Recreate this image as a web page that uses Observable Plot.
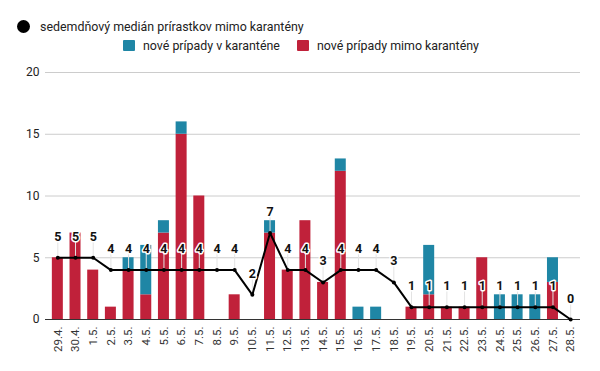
<!DOCTYPE html>
<html>
<head>
<meta charset="utf-8">
<script src="https://cdn.jsdelivr.net/npm/d3@7"></script>
<script src="https://cdn.jsdelivr.net/npm/@observablehq/plot@0.6"></script>
<style>
  body { margin: 0; background: #fff; font-family: Roboto, "Noto Sans", sans-serif; }
  #legend { position: relative; height: 60px; width: 600px; font-size: 12.4px; color: #222; }
  .row { position: absolute; display: flex; align-items: center; white-space: nowrap; height: 14px; }
  .dot { width: 13px; height: 13px; border-radius: 50%; background: #000; margin-right: 10px; }
  .sw { width: 12px; height: 11px; margin-right: 8px; border-radius: 1px; }
</style>
</head>
<body>
<div id="legend">
  <div class="row" style="left:17px; top:19px;"><span class="dot"></span>sedemdňový medián prírastkov mimo karantény</div>
  <div class="row" style="left:123px; top:38px;">
    <span class="sw" style="background:#1f86a5"></span><span>nové prípady v karanténe</span>
    <span class="sw" style="background:#c0213a; margin-left:17px;"></span><span>nové prípady mimo karantény</span>
  </div>
</div>
<div id="chart"></div>
<script>
const days = ["29.4.","30.4.","1.5.","2.5.","3.5.","4.5.","5.5.","6.5.","7.5.","8.5.","9.5.","10.5.","11.5.","12.5.","13.5.","14.5.","15.5.","16.5.","17.5.","18.5.","19.5.","20.5.","21.5.","22.5.","23.5.","24.5.","25.5.","26.5.","27.5.","28.5."];
const mimo = [5,7,4,1,4,2,7,15,10,0,2,0,7,4,8,3,12,0,0,0,1,2,1,1,5,0,0,0,3,0];
const vKarantene = [0,0,0,0,1,4,1,1,0,0,0,0,1,0,0,0,1,1,1,0,0,4,0,0,0,2,2,2,2,0];
const median = [5,5,5,4,4,4,4,4,4,4,4,2,7,4,4,3,4,4,4,3,1,1,1,1,1,1,1,1,1,0];
const seriesNames = ["nové prípady mimo karantény", "nové prípady v karanténe"];
const seriesColors = ["#c0213a", "#1f86a5"];
const yTicks = [0, 5, 10, 15, 20];

const bars = [];
days.forEach((d, i) => {
  bars.push({day: d, series: seriesNames[0], value: mimo[i]});
  bars.push({day: d, series: seriesNames[1], value: vKarantene[i]});
});
const med = days.map((d, i) => ({day: d, value: median[i]}));

const chart = Plot.plot({
  width: 600,
  height: 311,
  marginLeft: 45,
  marginRight: 20,
  marginTop: 12,
  marginBottom: 52,
  insetLeft: 3.5,
  insetRight: 1,
  style: {fontFamily: "Roboto, sans-serif", background: "#fff"},
  x: {domain: days, paddingInner: 0.378, paddingOuter: 0.189, round: false, label: null},
  y: {domain: [0, 20], ticks: yTicks, label: null},
  color: {domain: seriesNames, range: seriesColors},
  marks: [
    Plot.ruleY(yTicks.filter(t => t > 0), {stroke: "#cccccc", strokeWidth: 1}),
    Plot.barY(bars, {x: "day", y: "value", fill: "series", order: seriesNames}),
    Plot.ruleY([0], {stroke: "#333", strokeWidth: 1.2}),
    Plot.ruleX(med, {x: "day", y1: "value", y2: "value", insetTop: -16, stroke: "#e3e3e3", strokeWidth: 1}),
    Plot.line(med, {x: "day", y: "value", stroke: "#000", strokeWidth: 2}),
    Plot.dot(med, {x: "day", y: "value", r: 2, fill: "#000"}),
    Plot.text(med, {x: "day", y: "value", text: d => String(d.value), dy: -21, fontSize: 12.5, fontWeight: "bold", fill: "#111", stroke: "white", strokeWidth: 3}),
    Plot.axisY({ticks: yTicks, tickSize: 0, tickPadding: 6, fontSize: 12, color: "#222", label: null}),
    Plot.axisX({tickSize: 0, tickPadding: 7, tickRotate: -90, fontSize: 11.5, color: "#333", label: null})
  ]
});
document.getElementById("chart").appendChild(chart);
</script>
</body>
</html>
